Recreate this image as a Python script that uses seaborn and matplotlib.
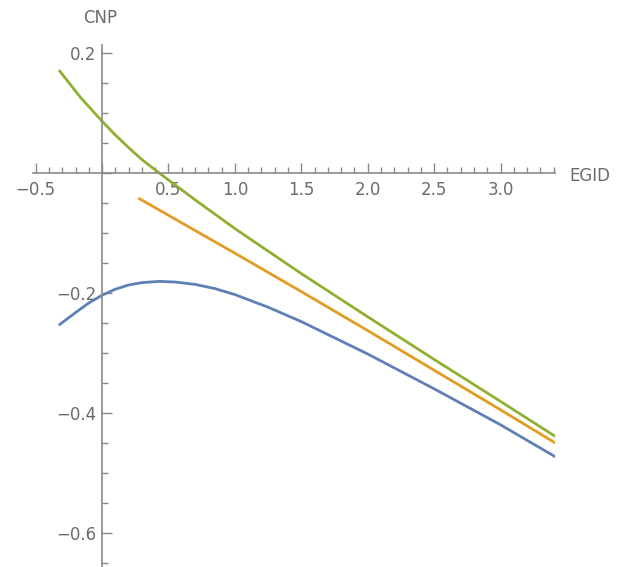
import numpy as np
import pandas as pd
import seaborn as sns
import matplotlib.pyplot as plt
from matplotlib.ticker import MultipleLocator, FuncFormatter

# values
blue_x = [-0.32, -0.2, -0.1, 0.0, 0.1, 0.2, 0.3, 0.43, 0.55, 0.7, 0.85, 1.0, 1.25, 1.5,
          2.0, 2.5, 3.0, 3.41]
blue_y = [-0.253, -0.233, -0.217, -0.204, -0.194, -0.187, -0.183, -0.181, -0.182, -0.186,
          -0.193, -0.203, -0.224, -0.248, -0.302, -0.36, -0.42, -0.473]

orange_x = [0.28, 1.0, 1.5, 2.0, 2.5, 3.0, 3.41]
orange_y = [-0.043, -0.134, -0.198, -0.263, -0.329, -0.395, -0.45]

green_x = [-0.32, -0.16, 0.0, 0.1, 0.2, 0.3, 0.44, 0.7, 1.0, 1.5, 2.0, 2.5, 3.0, 3.41]
green_y = [0.17, 0.125, 0.086, 0.063, 0.042, 0.022, -0.002, -0.045, -0.093, -0.168,
           -0.24, -0.311, -0.381, -0.439]

sns.set_style("white")
plt.rcParams['font.family'] = ['DejaVu Sans']

df = pd.concat([
    pd.DataFrame({'EGID': blue_x, 'CNP': blue_y, 's': 'blue'}),
    pd.DataFrame({'EGID': orange_x, 'CNP': orange_y, 's': 'orange'}),
    pd.DataFrame({'EGID': green_x, 'CNP': green_y, 's': 'green'}),
])
palette = {'blue': '#5E81B5', 'orange': '#E19C24', 'green': '#8FB032'}

fig = plt.figure(figsize=(6.2, 5.67), dpi=100)
ax = fig.add_axes([33 / 620, 0.0, (555 - 33) / 620, 1 - 45 / 567])
sns.lineplot(data=df, x='EGID', y='CNP', hue='s', palette=palette, linewidth=2,
             legend=False, ax=ax, sort=False, estimator=None)

ax.set_xlim(-0.52, 3.41)
ax.set_ylim(-0.657, 0.213)

axis_col = '#8a8a8a'
for side in ['top', 'right']:
    ax.spines[side].set_visible(False)
ax.spines['left'].set_position(('data', 0))
ax.spines['bottom'].set_position(('data', 0))
for side in ['left', 'bottom']:
    ax.spines[side].set_color(axis_col)
    ax.spines[side].set_linewidth(1.2)

ax.xaxis.set_major_locator(MultipleLocator(0.5))
ax.xaxis.set_minor_locator(MultipleLocator(0.1))
ax.yaxis.set_major_locator(MultipleLocator(0.2))
ax.yaxis.set_minor_locator(MultipleLocator(0.05))

def fmt(v, pos):
    if abs(v) < 1e-9:
        return ''
    return f'{v:.1f}'.replace('-', '\u2212')

ax.xaxis.set_major_formatter(FuncFormatter(fmt))
ax.yaxis.set_major_formatter(FuncFormatter(fmt))

ax.tick_params(axis='both', which='both', direction='in', color=axis_col, width=1,
               bottom=True, top=False, left=True, right=False)
ax.tick_params(axis='both', which='major', length=7, labelcolor='#6b6b6b', labelsize=12)
ax.tick_params(axis='both', which='minor', length=4)
ax.tick_params(axis='x', which='major', pad=6)
ax.tick_params(axis='y', which='major', pad=4)

ax.set_xlabel('')
ax.set_ylabel('')
fig.text(100 / 620, 1 - 18 / 567, 'CNP', ha='center', va='center', color='#6b6b6b', fontsize=12)
fig.text(569 / 620, 1 - 176 / 567, 'EGID', ha='left', va='center', color='#6b6b6b', fontsize=12)

fig.savefig('out.png', dpi=100)
